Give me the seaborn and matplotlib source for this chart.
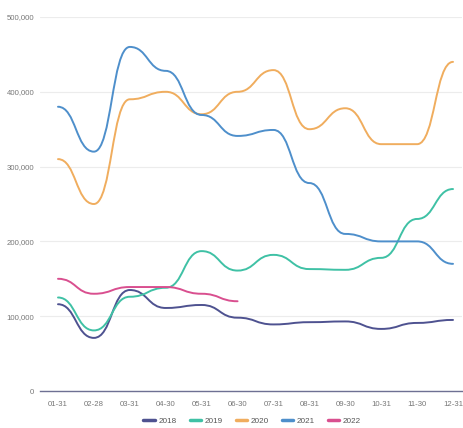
import numpy as np
import pandas as pd
import matplotlib
matplotlib.use("Agg")
import matplotlib.pyplot as plt
from matplotlib.path import Path
from matplotlib.patches import PathPatch
from matplotlib.lines import Line2D
from matplotlib.ticker import FuncFormatter
from matplotlib import font_manager
import seaborn as sns

months = ["01-31", "02-28", "03-31", "04-30", "05-31", "06-30",
          "07-31", "08-31", "09-30", "10-31", "11-30", "12-31"]
years = ["2018", "2019", "2020", "2021", "2022"]
v2018 = [116000, 71000, 135000, 111000, 115000, 98000, 89000, 92000, 93000, 83000, 91000, 95000]
v2019 = [125000, 81000, 126000, 138000, 187000, 161000, 182000, 163000, 162000, 178000, 230000, 270000]
v2020 = [310000, 250000, 390000, 400000, 370000, 400000, 429000, 350000, 378000, 330000, 330000, 440000]
v2021 = [380000, 320000, 460000, 428000, 369000, 341000, 349000, 278000, 210000, 200000, 200000, 170000]
v2022 = [150000, 130000, 139000, 139000, 130000, 120000]
colors = ["#4e5290", "#3fc1a5", "#f0ad5e", "#4e8fcb", "#d94f8f"]

series = [v2018, v2019, v2020, v2021, v2022]
rows = []
for y, vals in zip(years, series):
    for i, v in enumerate(vals):
        rows.append({"month": i, "value": v, "year": y})
df = pd.DataFrame(rows)

sns.set_style("white")
names = {f.name for f in font_manager.fontManager.ttflist}
fam = [n for n in ["Liberation Sans Narrow", "Liberation Sans", "DejaVu Sans"] if n in names]
narrow = "Liberation Sans Narrow" in names
plt.rcParams["font.family"] = fam
fs = 6.5 if narrow else 5.6

fig = plt.figure(figsize=(4.64, 4.28), dpi=100)
W, H = 464, 428
ax = fig.add_axes([40 / W, 1 - 391 / H, (462 - 40) / W, (391 - 17) / H])

sns.lineplot(data=df, x="month", y="value", hue="year", palette=colors,
             legend=False, ax=ax, linewidth=1.4)
ax.set_xlim(-0.501, 11.25)
ax.set_ylim(0, 500000)

# smooth (monotone-x, horizontal tangents) rendering through the data points
def smooth_path(xs, ys, s=0.5):
    n = len(xs)
    verts = [(xs[0], ys[0])]
    codes = [Path.MOVETO]
    for i in range(n - 1):
        dx = xs[i + 1] - xs[i]
        verts += [(xs[i] + dx * s, ys[i]), (xs[i + 1] - dx * s, ys[i + 1]),
                  (xs[i + 1], ys[i + 1])]
        codes += [Path.CURVE4] * 3
    return Path(np.array(verts, dtype=float), codes)

for line in ax.get_lines():
    line.set_visible(False)
for vals, c in zip(series, colors):
    xs = np.arange(len(vals), dtype=float)
    p = smooth_path(xs, np.array(vals, dtype=float))
    ax.add_patch(PathPatch(p, facecolor="none", edgecolor=c, lw=1.4,
                           capstyle="round", joinstyle="round"))

ax.set_xticks(range(len(months)))
ax.set_xticklabels(months)
ax.set_yticks([0, 100000, 200000, 300000, 400000, 500000])
ax.yaxis.set_major_formatter(FuncFormatter(lambda v, _: f"{int(v):,}"))
ax.tick_params(axis="both", length=0, labelsize=fs, colors="#777777")
ax.tick_params(axis="x", pad=7)
ax.tick_params(axis="y", pad=4)
ax.grid(axis="y", color="#ececec", linewidth=0.8)
ax.set_axisbelow(True)
for s_ in ["top", "right", "left"]:
    ax.spines[s_].set_visible(False)
ax.spines["bottom"].set_color("#6e7093")
ax.spines["bottom"].set_linewidth(1.0)
ax.set_xlabel("")
ax.set_ylabel("")

handles = [Line2D([0], [0], color=c, lw=2.5) for c in colors]
fig.legend(handles, years, loc="center", bbox_to_anchor=(252 / W, 1 - 421 / H),
           ncol=5, frameon=False, fontsize=fs + 0.3, handlelength=1.4,
           handletextpad=0.4, columnspacing=1.6, labelcolor="#555555")

fig.savefig("out.png", dpi=100)
